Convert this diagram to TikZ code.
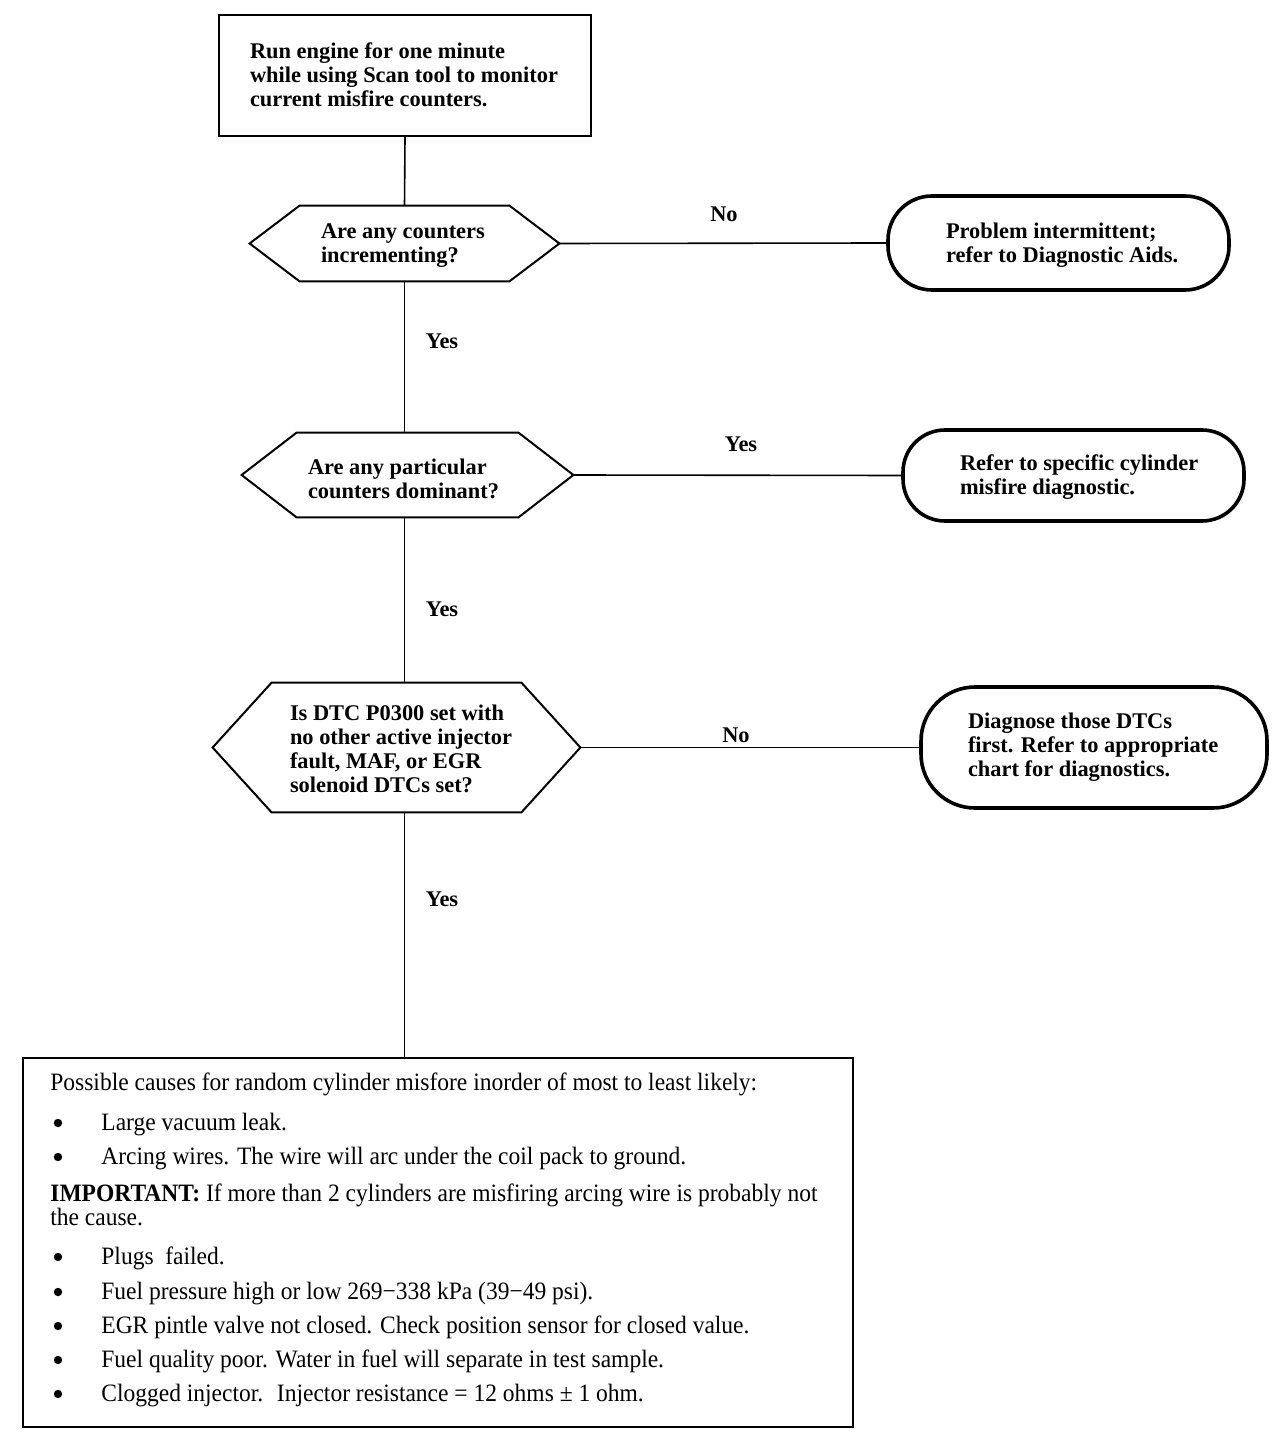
\documentclass[tikz,border=0pt]{standalone}
\usepackage{fontspec}
\setmainfont{Liberation Serif}
\newfontfamily\condfont[FakeStretch=0.94]{Liberation Serif}
\newcommand\hexoutline[2]{\draw[hexline] (#1.west) -- ([xshift=#2]#1.north west) -- ([xshift=-#2]#1.north east) -- (#1.east) -- ([xshift=-#2]#1.south east) -- ([xshift=#2]#1.south west) -- cycle;}
\newcommand\txtblock[3][1pt]{\raisebox{-#1}[\height][\depth]{\makebox[#2][l]{\begin{tabular}{@{}l@{}}#3\end{tabular}}}}
\begin{document}
\begin{tikzpicture}[x=0.5pt,y=-0.5pt,
  flowfont/.style={font=\fontsize{11.2}{12}\selectfont\bfseries},
  procbox/.style={flowfont, draw, line width=1pt, inner sep=0pt},
  hexnode/.style={flowfont, inner sep=0pt},
  hexline/.style={line width=1pt, line join=miter},
  oval/.style={flowfont, draw, line width=1.8pt, inner sep=0pt},
  conn/.style={line width=0.8pt},
  lbl/.style={flowfont, inner sep=0pt},
  notetxt/.style={font=\condfont\fontsize{12.5}{12}\selectfont, anchor=base west, inner sep=0pt, align=left},
  bulletdot/.style={circle, fill=black, inner sep=0pt, minimum size=4.2pt},
  notebox/.style={draw, line width=1pt, inner sep=0pt}]
\useasboundingbox (0,0) rectangle (1280,1454);
\fill[white] (0,0) rectangle (1280,1454);

\node[procbox, minimum width=186pt, minimum height=60.5pt] (start) at (405,75.5)
  {\txtblock[1pt]{155pt}{Run engine for one minute\\while using Scan tool to monitor\\current misfire counters.}};

\node[hexnode, minimum width=154.5pt, minimum height=37.5pt] (d1) at (404.5,243.5)
  {\txtblock[1pt]{83.5pt}{Are any counters\\incrementing?}};
\hexoutline{d1}{25pt}

\node[hexnode, minimum width=165.5pt, minimum height=42pt] (d2) at (407.5,475)
  {\txtblock[3.5pt]{99.5pt}{Are any particular\\counters dominant?}};
\hexoutline{d2}{27.5pt}

\node[hexnode, minimum width=183.5pt, minimum height=64.5pt] (d3) at (396.5,747.5)
  {\txtblock[2pt]{106.5pt}{Is DTC P0300 set with\\no other active injector\\fault, MAF, or EGR\\solenoid DTCs set?}};
\hexoutline{d3}{29.5pt}

\node[oval, rounded corners=22pt, minimum width=170.5pt, minimum height=47pt] (o1) at (1058.5,243)
  {\txtblock[1.5pt]{112.5pt}{Problem intermittent;\\refer to Diagnostic Aids.}};
\node[oval, rounded corners=21pt, minimum width=170.5pt, minimum height=45.5pt] (o2) at (1073.5,475.5)
  {\txtblock[1pt]{113.5pt}{Refer to specific cylinder\\misfire diagnostic.}};
\node[oval, rounded corners=27pt, minimum width=173pt, minimum height=60.5pt] (o3) at (1094,747.5)
  {\txtblock[0pt]{126pt}{Diagnose those DTCs\\first. Refer to appropriate\\chart for diagnostics.}};

\node[notebox, minimum width=415pt, minimum height=184.5pt] (notes) at (438,1242.5) {};

% connectors
\draw[conn] (start.south) -- (d1.north);
\draw[conn] (d1.south) -- (d1.south |- d2.north);
\draw[conn] (d2.south -| d1.south) -- (d1.south |- d3.north);
\draw[conn] (d3.south -| d1.south) -- (d1.south |- notes.north);
\draw[conn] (d1.east) -- (o1.west);
\draw[conn] (d2.east) -- (o2.west);
\draw[conn] (d3.east) -- (o3.west);

% labels
\node[lbl] (l1) at (724,214) {No};
\node[lbl] (l2) at (442,341) {Yes};
\node[lbl] (l3) at (741,444) {Yes};
\node[lbl] (l4) at (442,609) {Yes};
\node[lbl] (l5) at (736,735) {No};
\node[lbl] (l6) at (442,899) {Yes};

% notes text
\node[notetxt] (t0) at (50,1090) {Possible causes for random cylinder misfore inorder of most to least likely:};
\node[bulletdot] (b1) at (58,1123) {};
\node[notetxt] (t1) at (101,1130) {Large vacuum leak.};
\node[bulletdot] (b2) at (58,1157) {};
\node[notetxt] (t2) at (101,1164) {Arcing wires. The wire will arc under the coil pack to ground.};
\node[notetxt] (t3) at (50,1225) {\textbf{IMPORTANT:} If more than 2 cylinders are misfiring arcing wire is probably not\\the cause.};
\node[bulletdot] (b3) at (58,1257) {};
\node[notetxt] (t4) at (101,1264) {Plugs~ failed.};
\node[bulletdot] (b4) at (58,1292) {};
\node[notetxt] (t5) at (101,1299) {Fuel pressure high or low 269−338 kPa (39−49 psi).};
\node[bulletdot] (b5) at (58,1326) {};
\node[notetxt] (t6) at (101,1333) {EGR pintle valve not closed. Check position sensor for closed value.};
\node[bulletdot] (b6) at (58,1360) {};
\node[notetxt] (t7) at (101,1367) {Fuel quality poor. Water in fuel will separate in test sample.};
\node[bulletdot] (b7) at (58,1394) {};
\node[notetxt] (t8) at (101,1401) {Clogged injector.~ Injector resistance = 12 ohms ± 1 ohm.};
\end{tikzpicture}
\end{document}
